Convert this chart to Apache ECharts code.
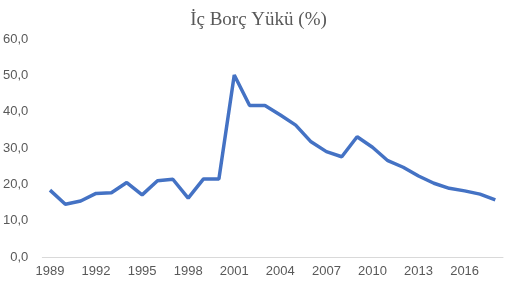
<!DOCTYPE html>
<html><head><meta charset="utf-8">
<script src="https://cdn.jsdelivr.net/npm/echarts@6/dist/echarts.min.js"></script>
<style>html,body{margin:0;padding:0;background:#fff}#c{width:517px;height:290px}</style>
</head><body><div id="c"></div>
<script>
var years = ['1989','1990','1991','1992','1993','1994','1995','1996','1997','1998','1999','2000','2001','2002','2003','2004','2005','2006','2007','2008','2009','2010','2011','2012','2013','2014','2015','2016','2017','2018'];
var values = [18.4,14.5,15.4,17.5,17.7,20.5,17.1,21.0,21.4,16.2,21.5,21.5,50.1,41.7,41.7,39.1,36.3,31.7,29.0,27.6,33.1,30.2,26.5,24.7,22.3,20.3,18.9,18.2,17.3,15.7];
var titleText = 'İç Borç Yükü (%)';
var chart = echarts.init(document.getElementById('c'));
chart.setOption({
  animation:false,
  title:{text:titleText,left:'center',top:6,textStyle:{fontFamily:'Liberation Serif',fontSize:19,fontWeight:'normal',color:'#595959'}},
  grid:{left:41,right:14,top:39,bottom:33},
  xAxis:{type:'category',data:years,boundaryGap:true,
    axisLine:{lineStyle:{color:'#d9d9d9'}},axisTick:{show:false},
    axisLabel:{interval:2,color:'#595959',fontSize:13,fontFamily:'Liberation Sans',margin:8}},
  yAxis:{type:'value',min:0,max:60,interval:10,
    axisLine:{show:false},axisTick:{show:false},splitLine:{show:false},
    axisLabel:{color:'#595959',fontSize:13,fontFamily:'Liberation Sans',margin:14,formatter:function(v){return v.toFixed(1).replace('.',',');}}},
  series:[{type:'line',data:values,symbol:'none',lineStyle:{color:'#4472C4',width:3.5}}]
});
</script></body></html>
